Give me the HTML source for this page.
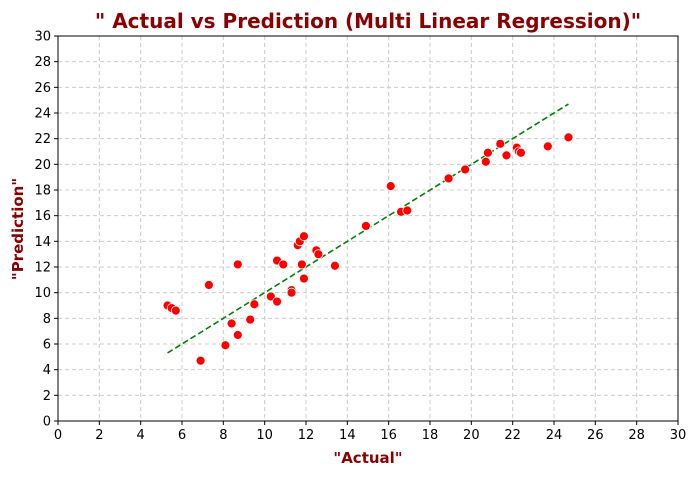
<!DOCTYPE html>
<html><head><meta charset="utf-8"><style>
body{margin:0;background:#fff;font-family:"Liberation Sans","DejaVu Sans",sans-serif}
</style></head><body>
<svg id="chart" width="696" height="475" xmlns="http://www.w3.org/2000/svg" font-family="'DejaVu Sans','Liberation Sans',sans-serif">
<text x="368" y="28" text-anchor="middle" font-size="20" font-weight="bold" fill="#8b0000">" Actual vs Prediction (Multi Linear Regression)"</text>
<text x="368" y="463" text-anchor="middle" font-size="15" font-weight="bold" fill="#8b0000">"Actual"</text>
<text transform="translate(23,229) rotate(-90)" text-anchor="middle" font-size="15" font-weight="bold" fill="#8b0000">"Prediction"</text>
<g id="grid"></g><g id="ticks"></g><g id="marks"></g>
<rect x="58" y="36" width="620" height="385" fill="none" stroke="#000" stroke-width="1"/>
</svg>
<script>
const actual=[5.3,5.5,5.7,6.9,7.3,8.1,8.4,8.7,8.7,9.3,9.5,10.3,10.6,10.6,10.9,11.3,11.3,11.6,11.7,11.8,11.9,11.9,12.5,12.6,13.4,14.9,16.1,16.6,16.9,18.9,19.7,20.7,20.8,21.4,21.7,22.2,22.3,22.4,23.7,24.7];
const predicted=[9.0,8.8,8.6,4.7,10.6,5.9,7.6,6.7,12.2,7.9,9.1,9.7,9.3,12.5,12.2,10.2,10.0,13.7,14.0,12.2,11.1,14.4,13.3,13.0,12.1,15.2,18.3,16.3,16.4,18.9,19.6,20.2,20.9,21.6,20.7,21.3,21.0,20.9,21.4,22.1];
const ticks=[0,2,4,6,8,10,12,14,16,18,20,22,24,26,28,30];
const lineEnds=[5.3,24.7];
const L=58,R=678,T=36,B=421;
const xs=v=>L+(v/30)*(R-L), ys=v=>B-(v/30)*(B-T);
const NS="http://www.w3.org/2000/svg";
function mk(tag,attrs,parent){const e=document.createElementNS(NS,tag);for(const k in attrs)e.setAttribute(k,attrs[k]);document.getElementById(parent).appendChild(e);return e;}
ticks.forEach(t=>{
 let g=mk('line',{x1:xs(t),x2:xs(t),y1:T,y2:B,stroke:'#ccc','stroke-dasharray':'4,3','stroke-width':1},'grid');
 
 
 g=mk('line',{x1:L,x2:R,y1:ys(t),y2:ys(t),stroke:'#ccc','stroke-dasharray':'4,3','stroke-width':1},'grid');
 
 
 let tk=mk('line',{x1:xs(t),x2:xs(t),y1:B,y2:B+4,stroke:'#000'},'ticks');
 
 
 tk=mk('line',{x1:L-4,x2:L,y1:ys(t),y2:ys(t),stroke:'#000'},'ticks');
 
 
 let tx=mk('text',{x:xs(t),y:B+18,'text-anchor':'middle','font-size':13,fill:'#000'},'ticks');tx.textContent=t;
 
 
 tx=mk('text',{x:L-7,y:ys(t)+4.5,'text-anchor':'end','font-size':13,fill:'#000'},'ticks');tx.textContent=t;
 
 
});
const ln=mk('line',{x1:xs(lineEnds[0]),y1:ys(lineEnds[0]),x2:xs(lineEnds[1]),y2:ys(lineEnds[1]),stroke:'#008000','stroke-width':1.6,'stroke-dasharray':'6,3'},'marks');


actual.forEach((a,i)=>{
 const c=mk('circle',{cx:xs(a),cy:ys(predicted[i]),r:4.5,fill:'#ff0000',stroke:'#fff','stroke-width':0.8},'marks');
 
 
});
</script>
</body></html>
